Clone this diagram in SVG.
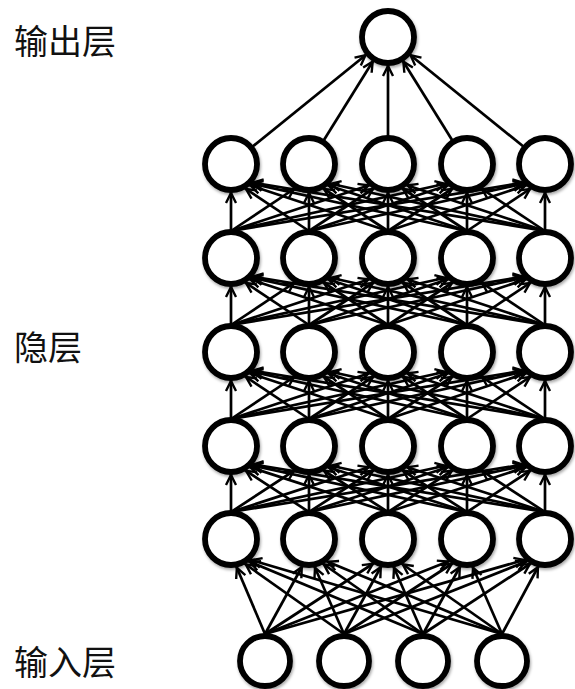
<svg xmlns="http://www.w3.org/2000/svg" width="575" height="689" viewBox="0 0 575 689">
<style>
.e{stroke:#000;stroke-width:2.7;fill:none}
.d14{marker-end:url(#a14)}.d15{marker-end:url(#a15)}.d18{marker-end:url(#a18)}.d20{marker-end:url(#a20)}.d21{marker-end:url(#a21)}.d22{marker-end:url(#a22)}.d29{marker-end:url(#a29)}
.ah{fill:none;stroke:#000;stroke-width:2.4;stroke-linejoin:miter}
.n{fill:#fff;stroke:#000;stroke-width:5.8;filter:url(#sh)}
.t{font-family:"Noto Sans CJK SC","Noto Sans",sans-serif;font-size:34px;fill:#111}
</style>
<defs>
<marker id="a14" markerUnits="userSpaceOnUse" markerWidth="60" markerHeight="20" refX="14" refY="0" orient="auto" overflow="visible"><path class="ah" d="M-10,-5 L0,0 L-10,5"/></marker>
<marker id="a15" markerUnits="userSpaceOnUse" markerWidth="60" markerHeight="20" refX="15" refY="0" orient="auto" overflow="visible"><path class="ah" d="M-10,-5 L0,0 L-10,5"/></marker>
<marker id="a18" markerUnits="userSpaceOnUse" markerWidth="60" markerHeight="20" refX="18" refY="0" orient="auto" overflow="visible"><path class="ah" d="M-10,-5 L0,0 L-10,5"/></marker>
<marker id="a20" markerUnits="userSpaceOnUse" markerWidth="60" markerHeight="20" refX="20.5" refY="0" orient="auto" overflow="visible"><path class="ah" d="M-10,-5 L0,0 L-10,5"/></marker>
<marker id="a21" markerUnits="userSpaceOnUse" markerWidth="60" markerHeight="20" refX="21.5" refY="0" orient="auto" overflow="visible"><path class="ah" d="M-10,-5 L0,0 L-10,5"/></marker>
<marker id="a22" markerUnits="userSpaceOnUse" markerWidth="60" markerHeight="20" refX="22.3" refY="0" orient="auto" overflow="visible"><path class="ah" d="M-10,-5 L0,0 L-10,5"/></marker>
<marker id="a29" markerUnits="userSpaceOnUse" markerWidth="60" markerHeight="20" refX="29" refY="0" orient="auto" overflow="visible"><path class="ah" d="M-10,-5 L0,0 L-10,5"/></marker>
<filter id="sh" x="-30%" y="-30%" width="160%" height="160%">
<feDropShadow dx="1" dy="2" stdDeviation="1.5" flood-color="#000" flood-opacity="0.35"/>
</filter>
</defs>
<g id="labels">
<text class="t" x="14" y="54">输出层</text>
<text class="t" x="14" y="360">隐层</text>
<text class="t" x="14" y="675">输入层</text>
</g>
<g id="connectors">
<!-- hidden row1 -> output -->
<line class="e d29" x1="231" y1="164" x2="388" y2="37"/>
<line class="e d29" x1="309" y1="164" x2="388" y2="37"/>
<line class="e d29" x1="388" y1="164" x2="388" y2="37"/>
<line class="e d29" x1="467" y1="164" x2="388" y2="37"/>
<line class="e d29" x1="545" y1="164" x2="388" y2="37"/>
<!-- row2 -> row1 -->
<line class="e d14" x1="231" y1="231" x2="231" y2="179"/><line class="e d18" x1="231" y1="231" x2="309" y2="179"/><line class="e d20" x1="231" y1="231" x2="388" y2="179"/><line class="e d22" x1="231" y1="231" x2="467" y2="179"/><line class="e d22" x1="231" y1="231" x2="545" y2="179"/>
<line class="e d18" x1="309" y1="231" x2="231" y2="179"/><line class="e d14" x1="309" y1="231" x2="309" y2="179"/><line class="e d18" x1="309" y1="231" x2="388" y2="179"/><line class="e d20" x1="309" y1="231" x2="467" y2="179"/><line class="e d22" x1="309" y1="231" x2="545" y2="179"/>
<line class="e d20" x1="388" y1="231" x2="231" y2="179"/><line class="e d18" x1="388" y1="231" x2="309" y2="179"/><line class="e d14" x1="388" y1="231" x2="388" y2="179"/><line class="e d18" x1="388" y1="231" x2="467" y2="179"/><line class="e d20" x1="388" y1="231" x2="545" y2="179"/>
<line class="e d22" x1="467" y1="231" x2="231" y2="179"/><line class="e d20" x1="467" y1="231" x2="309" y2="179"/><line class="e d18" x1="467" y1="231" x2="388" y2="179"/><line class="e d14" x1="467" y1="231" x2="467" y2="179"/><line class="e d18" x1="467" y1="231" x2="545" y2="179"/>
<line class="e d22" x1="545" y1="231" x2="231" y2="179"/><line class="e d22" x1="545" y1="231" x2="309" y2="179"/><line class="e d20" x1="545" y1="231" x2="388" y2="179"/><line class="e d18" x1="545" y1="231" x2="467" y2="179"/><line class="e d14" x1="545" y1="231" x2="545" y2="179"/>
<!-- row3 -> row2 -->
<line class="e d14" x1="231" y1="325" x2="231" y2="273"/><line class="e d18" x1="231" y1="325" x2="309" y2="273"/><line class="e d20" x1="231" y1="325" x2="388" y2="273"/><line class="e d22" x1="231" y1="325" x2="467" y2="273"/><line class="e d22" x1="231" y1="325" x2="545" y2="273"/>
<line class="e d18" x1="309" y1="325" x2="231" y2="273"/><line class="e d14" x1="309" y1="325" x2="309" y2="273"/><line class="e d18" x1="309" y1="325" x2="388" y2="273"/><line class="e d20" x1="309" y1="325" x2="467" y2="273"/><line class="e d22" x1="309" y1="325" x2="545" y2="273"/>
<line class="e d20" x1="388" y1="325" x2="231" y2="273"/><line class="e d18" x1="388" y1="325" x2="309" y2="273"/><line class="e d14" x1="388" y1="325" x2="388" y2="273"/><line class="e d18" x1="388" y1="325" x2="467" y2="273"/><line class="e d20" x1="388" y1="325" x2="545" y2="273"/>
<line class="e d22" x1="467" y1="325" x2="231" y2="273"/><line class="e d20" x1="467" y1="325" x2="309" y2="273"/><line class="e d18" x1="467" y1="325" x2="388" y2="273"/><line class="e d14" x1="467" y1="325" x2="467" y2="273"/><line class="e d18" x1="467" y1="325" x2="545" y2="273"/>
<line class="e d22" x1="545" y1="325" x2="231" y2="273"/><line class="e d22" x1="545" y1="325" x2="309" y2="273"/><line class="e d20" x1="545" y1="325" x2="388" y2="273"/><line class="e d18" x1="545" y1="325" x2="467" y2="273"/><line class="e d14" x1="545" y1="325" x2="545" y2="273"/>
<!-- row4 -> row3 -->
<line class="e d14" x1="231" y1="419" x2="231" y2="367"/><line class="e d18" x1="231" y1="419" x2="309" y2="367"/><line class="e d20" x1="231" y1="419" x2="388" y2="367"/><line class="e d22" x1="231" y1="419" x2="467" y2="367"/><line class="e d22" x1="231" y1="419" x2="545" y2="367"/>
<line class="e d18" x1="309" y1="419" x2="231" y2="367"/><line class="e d14" x1="309" y1="419" x2="309" y2="367"/><line class="e d18" x1="309" y1="419" x2="388" y2="367"/><line class="e d20" x1="309" y1="419" x2="467" y2="367"/><line class="e d22" x1="309" y1="419" x2="545" y2="367"/>
<line class="e d20" x1="388" y1="419" x2="231" y2="367"/><line class="e d18" x1="388" y1="419" x2="309" y2="367"/><line class="e d14" x1="388" y1="419" x2="388" y2="367"/><line class="e d18" x1="388" y1="419" x2="467" y2="367"/><line class="e d20" x1="388" y1="419" x2="545" y2="367"/>
<line class="e d22" x1="467" y1="419" x2="231" y2="367"/><line class="e d20" x1="467" y1="419" x2="309" y2="367"/><line class="e d18" x1="467" y1="419" x2="388" y2="367"/><line class="e d14" x1="467" y1="419" x2="467" y2="367"/><line class="e d18" x1="467" y1="419" x2="545" y2="367"/>
<line class="e d22" x1="545" y1="419" x2="231" y2="367"/><line class="e d22" x1="545" y1="419" x2="309" y2="367"/><line class="e d20" x1="545" y1="419" x2="388" y2="367"/><line class="e d18" x1="545" y1="419" x2="467" y2="367"/><line class="e d14" x1="545" y1="419" x2="545" y2="367"/>
<!-- row5 -> row4 -->
<line class="e d14" x1="231" y1="512" x2="231" y2="461"/><line class="e d18" x1="231" y1="512" x2="309" y2="461"/><line class="e d20" x1="231" y1="512" x2="388" y2="461"/><line class="e d22" x1="231" y1="512" x2="467" y2="461"/><line class="e d22" x1="231" y1="512" x2="545" y2="461"/>
<line class="e d18" x1="309" y1="512" x2="231" y2="461"/><line class="e d14" x1="309" y1="512" x2="309" y2="461"/><line class="e d18" x1="309" y1="512" x2="388" y2="461"/><line class="e d20" x1="309" y1="512" x2="467" y2="461"/><line class="e d22" x1="309" y1="512" x2="545" y2="461"/>
<line class="e d20" x1="388" y1="512" x2="231" y2="461"/><line class="e d18" x1="388" y1="512" x2="309" y2="461"/><line class="e d14" x1="388" y1="512" x2="388" y2="461"/><line class="e d18" x1="388" y1="512" x2="467" y2="461"/><line class="e d20" x1="388" y1="512" x2="545" y2="461"/>
<line class="e d22" x1="467" y1="512" x2="231" y2="461"/><line class="e d20" x1="467" y1="512" x2="309" y2="461"/><line class="e d18" x1="467" y1="512" x2="388" y2="461"/><line class="e d14" x1="467" y1="512" x2="467" y2="461"/><line class="e d18" x1="467" y1="512" x2="545" y2="461"/>
<line class="e d22" x1="545" y1="512" x2="231" y2="461"/><line class="e d22" x1="545" y1="512" x2="309" y2="461"/><line class="e d20" x1="545" y1="512" x2="388" y2="461"/><line class="e d18" x1="545" y1="512" x2="467" y2="461"/><line class="e d14" x1="545" y1="512" x2="545" y2="461"/>
<!-- input -> row5 -->
<line class="e d15" x1="265" y1="634" x2="231" y2="554"/><line class="e d15" x1="265" y1="634" x2="309" y2="554"/><line class="e d18" x1="265" y1="634" x2="388" y2="554"/><line class="e d20" x1="265" y1="634" x2="467" y2="554"/><line class="e d21" x1="265" y1="634" x2="545" y2="554"/>
<line class="e d18" x1="344" y1="634" x2="231" y2="554"/><line class="e d15" x1="344" y1="634" x2="309" y2="554"/><line class="e d15" x1="344" y1="634" x2="388" y2="554"/><line class="e d18" x1="344" y1="634" x2="467" y2="554"/><line class="e d20" x1="344" y1="634" x2="545" y2="554"/>
<line class="e d20" x1="423" y1="634" x2="231" y2="554"/><line class="e d18" x1="423" y1="634" x2="309" y2="554"/><line class="e d15" x1="423" y1="634" x2="388" y2="554"/><line class="e d15" x1="423" y1="634" x2="467" y2="554"/><line class="e d18" x1="423" y1="634" x2="545" y2="554"/>
<line class="e d21" x1="502" y1="634" x2="231" y2="554"/><line class="e d20" x1="502" y1="634" x2="309" y2="554"/><line class="e d18" x1="502" y1="634" x2="388" y2="554"/><line class="e d15" x1="502" y1="634" x2="467" y2="554"/><line class="e d15" x1="502" y1="634" x2="545" y2="554"/>
</g>
<g id="output"><circle id="o1" class="n" cx="388" cy="37" r="26"/></g>
<g id="hidden1">
<circle id="h1_1" class="n" cx="231" cy="164" r="26"/><circle id="h1_2" class="n" cx="309" cy="164" r="26"/><circle id="h1_3" class="n" cx="388" cy="164" r="26"/><circle id="h1_4" class="n" cx="467" cy="164" r="26"/><circle id="h1_5" class="n" cx="545" cy="164" r="26"/>
</g>
<g id="hidden2">
<circle id="h2_1" class="n" cx="231" cy="258" r="26"/><circle id="h2_2" class="n" cx="309" cy="258" r="26"/><circle id="h2_3" class="n" cx="388" cy="258" r="26"/><circle id="h2_4" class="n" cx="467" cy="258" r="26"/><circle id="h2_5" class="n" cx="545" cy="258" r="26"/>
</g>
<g id="hidden3">
<circle id="h3_1" class="n" cx="231" cy="352" r="26"/><circle id="h3_2" class="n" cx="309" cy="352" r="26"/><circle id="h3_3" class="n" cx="388" cy="352" r="26"/><circle id="h3_4" class="n" cx="467" cy="352" r="26"/><circle id="h3_5" class="n" cx="545" cy="352" r="26"/>
</g>
<g id="hidden4">
<circle id="h4_1" class="n" cx="231" cy="446" r="26"/><circle id="h4_2" class="n" cx="309" cy="446" r="26"/><circle id="h4_3" class="n" cx="388" cy="446" r="26"/><circle id="h4_4" class="n" cx="467" cy="446" r="26"/><circle id="h4_5" class="n" cx="545" cy="446" r="26"/>
</g>
<g id="hidden5">
<circle id="h5_1" class="n" cx="231" cy="539" r="26"/><circle id="h5_2" class="n" cx="309" cy="539" r="26"/><circle id="h5_3" class="n" cx="388" cy="539" r="26"/><circle id="h5_4" class="n" cx="467" cy="539" r="26"/><circle id="h5_5" class="n" cx="545" cy="539" r="26"/>
</g>
<g id="input">
<circle id="i1" class="n" cx="265" cy="661" r="25"/><circle id="i2" class="n" cx="344" cy="661" r="25"/><circle id="i3" class="n" cx="423" cy="661" r="25"/><circle id="i4" class="n" cx="502" cy="661" r="25"/>
</g>
</svg>
